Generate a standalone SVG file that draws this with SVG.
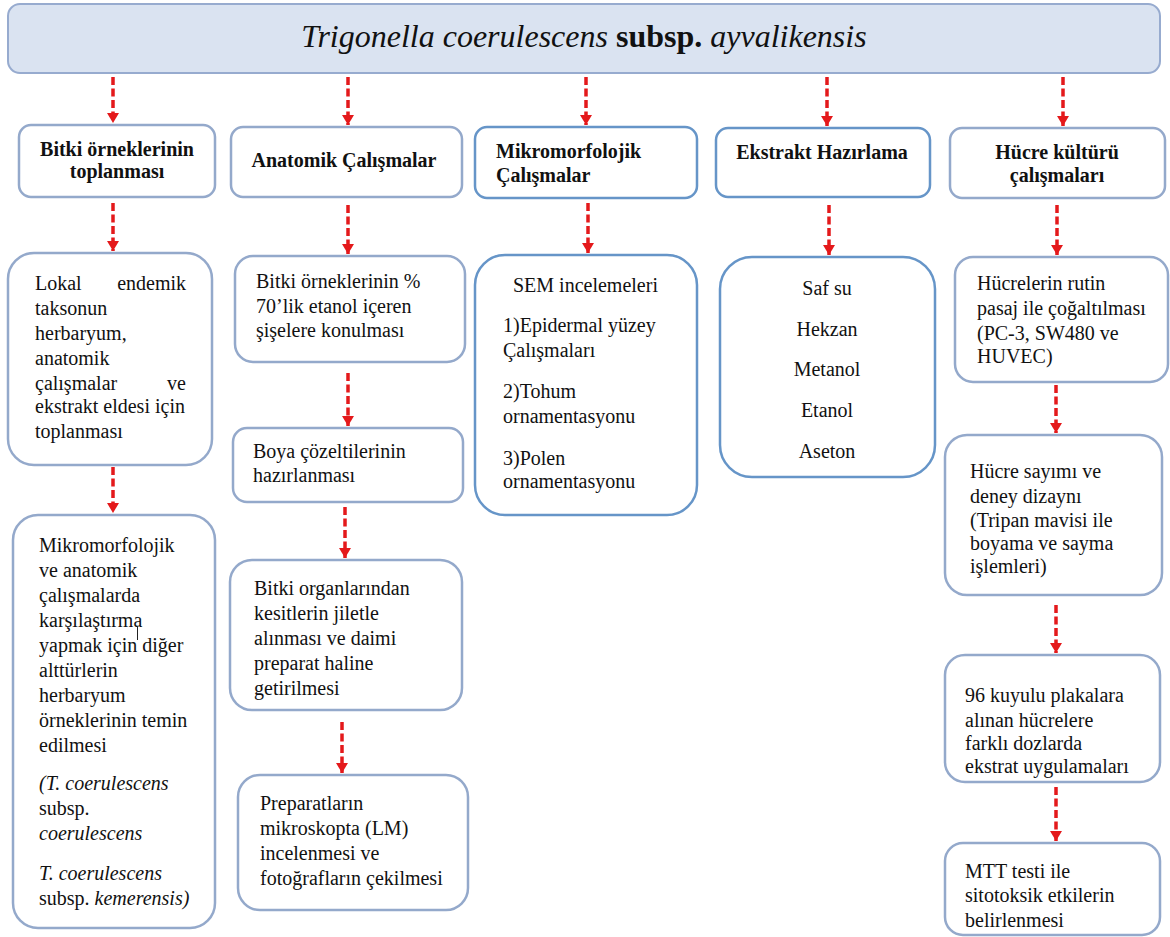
<svg xmlns="http://www.w3.org/2000/svg" width="1170" height="937" viewBox="0 0 1170 937">
<style>
  text { font-family: "Liberation Serif", "Times New Roman", serif; font-size: 20px; fill: #111; }
  .h { font-weight: bold; }
  .c { text-anchor: middle; }
  .i { font-style: italic; }
  .box { fill: #ffffff; stroke: #94a9cb; stroke-width: 2.5; }
  .blue { stroke: #6695c8; }
  .arr { stroke: #e4191b; stroke-width: 3.5; stroke-dasharray: 8 3.5; fill: none; marker-end: url(#head); }
</style>
<defs>
  <marker id="head" viewBox="0 0 10 12" refX="10" refY="6" markerWidth="10" markerHeight="12" markerUnits="userSpaceOnUse" orient="auto">
    <path d="M0,0 L10,6 L0,12 z" fill="#e4191b"/>
  </marker>
</defs>
<rect width="1170" height="937" fill="#ffffff"/>

<g id="title">
  <rect x="8" y="4" width="1152" height="69" rx="12" fill="#dae3f1" stroke="#97abcf" stroke-width="2"/>
  <text x="584" y="47" class="c" style="font-size:32px"><tspan class="i">Trigonella coerulescens</tspan> <tspan class="h">subsp.</tspan> <tspan class="i">ayvalikensis</tspan></text>
</g>

<g id="connectors">
  <line class="arr" x1="113" y1="77" x2="113" y2="123"/>
  <line class="arr" x1="348" y1="77" x2="348" y2="125"/>
  <line class="arr" x1="586" y1="77" x2="586" y2="125"/>
  <line class="arr" x1="827" y1="77" x2="827" y2="126"/>
  <line class="arr" x1="1063" y1="77" x2="1063" y2="126"/>

  <line class="arr" x1="113" y1="203" x2="113" y2="251"/>
  <line class="arr" x1="348" y1="205" x2="348" y2="254"/>
  <line class="arr" x1="588" y1="203" x2="588" y2="253"/>
  <line class="arr" x1="829" y1="205" x2="829" y2="255"/>
  <line class="arr" x1="1057" y1="205" x2="1057" y2="255"/>

  <line class="arr" x1="113" y1="467" x2="113" y2="513"/>
  <line class="arr" x1="348" y1="373" x2="348" y2="426"/>
  <line class="arr" x1="345" y1="507" x2="345" y2="558"/>
  <line class="arr" x1="342" y1="722" x2="342" y2="773"/>
  <line class="arr" x1="1056" y1="385" x2="1056" y2="433"/>
  <line class="arr" x1="1056" y1="605" x2="1056" y2="653"/>
  <line class="arr" x1="1056" y1="787" x2="1056" y2="841"/>
</g>

<g id="n-bitki">
  <rect class="box" x="19" y="125" width="196" height="72" rx="12"/>
  <text x="117" y="156" class="h c">Bitki örneklerinin</text>
  <text x="117" y="178" class="h c">toplanması</text>
</g>
<g id="n-anatomik">
  <rect class="box" x="231" y="127" width="231" height="70" rx="12"/>
  <text x="344" y="167" class="h c">Anatomik Çalışmalar</text>
</g>
<g id="n-mikro">
  <rect class="box blue" x="475" y="127" width="222" height="71" rx="12"/>
  <text x="496" y="158" class="h">Mikromorfolojik</text>
  <text x="496" y="182" class="h">Çalışmalar</text>
</g>
<g id="n-ekstrakt">
  <rect class="box blue" x="716" y="128" width="214" height="69" rx="12"/>
  <text x="822" y="159" class="h c">Ekstrakt Hazırlama</text>
</g>
<g id="n-hucre">
  <rect class="box" x="950" y="128" width="215" height="70" rx="12"/>
  <text x="1057" y="159" class="h c">Hücre kültürü</text>
  <text x="1057" y="182" class="h c">çalışmaları</text>
</g>

<g id="n-lokal">
  <rect class="box" x="8" y="253" width="204" height="212" rx="26"/>
  <text x="35" y="290">Lokal</text>
  <text x="186" y="290" style="text-anchor:end">endemik</text>
  <text x="35" y="315">taksonun</text>
  <text x="35" y="340">herbaryum,</text>
  <text x="35" y="365">anatomik</text>
  <text x="35" y="390">çalışmalar</text>
  <text x="186" y="390" style="text-anchor:end">ve</text>
  <text x="35" y="413">ekstrakt eldesi için</text>
  <text x="35" y="438">toplanması</text>
</g>
<g id="n-karsilastirma">
  <rect class="box" x="13" y="515" width="202" height="413" rx="25"/>
  <text x="39" y="552">Mikromorfolojik</text>
  <text x="39" y="577">ve anatomik</text>
  <text x="39" y="602">çalışmalarda</text>
  <text x="39" y="627">karşılaştırma</text>
  <text x="39" y="652">yapmak için diğer</text>
  <line x1="137.5" y1="627" x2="137.5" y2="640" stroke="#222" stroke-width="1"/>
  <text x="39" y="677">alttürlerin</text>
  <text x="39" y="702">herbaryum</text>
  <text x="39" y="727">örneklerinin temin</text>
  <text x="39" y="752">edilmesi</text>
  <text x="39" y="790" class="i">(T. coerulescens</text>
  <text x="39" y="815">subsp.</text>
  <text x="39" y="840" class="i">coerulescens</text>
  <text x="39" y="880" class="i">T. coerulescens</text>
  <text x="39" y="905">subsp. <tspan class="i">kemerensis)</tspan></text>
</g>

<g id="n-etanol">
  <rect class="box" x="235" y="256" width="230" height="106" rx="18"/>
  <text x="256" y="288">Bitki örneklerinin %</text>
  <text x="256" y="313">70’lik etanol içeren</text>
  <text x="256" y="337">şişelere konulması</text>
</g>
<g id="n-boya">
  <rect class="box" x="233" y="428" width="230" height="74" rx="14"/>
  <text x="253" y="458">Boya çözeltilerinin</text>
  <text x="253" y="482">hazırlanması</text>
</g>
<g id="n-kesit">
  <rect class="box" x="230" y="560" width="232" height="150" rx="22"/>
  <text x="254" y="595">Bitki organlarından</text>
  <text x="254" y="620">kesitlerin jiletle</text>
  <text x="254" y="645">alınması ve daimi</text>
  <text x="254" y="670">preparat haline</text>
  <text x="254" y="695">getirilmesi</text>
</g>
<g id="n-preparat">
  <rect class="box" x="238" y="775" width="230" height="135" rx="22"/>
  <text x="260" y="810">Preparatların</text>
  <text x="260" y="835">mikroskopta (LM)</text>
  <text x="260" y="860">incelenmesi ve</text>
  <text x="260" y="885">fotoğrafların çekilmesi</text>
</g>

<g id="n-sem">
  <rect class="box blue" x="475" y="255" width="222" height="260" rx="30"/>
  <text x="513" y="292">SEM incelemeleri</text>
  <text x="503" y="332">1)Epidermal yüzey</text>
  <text x="503" y="357">Çalışmaları</text>
  <text x="503" y="398">2)Tohum</text>
  <text x="503" y="423">ornamentasyonu</text>
  <text x="503" y="465">3)Polen</text>
  <text x="503" y="488">ornamentasyonu</text>
</g>

<g id="n-cozucu">
  <rect class="box blue" x="720" y="257" width="215" height="220" rx="32"/>
  <text x="827" y="295" class="c">Saf su</text>
  <text x="827" y="336" class="c">Hekzan</text>
  <text x="827" y="376" class="c">Metanol</text>
  <text x="827" y="417" class="c">Etanol</text>
  <text x="827" y="458" class="c">Aseton</text>
</g>

<g id="n-pasaj">
  <rect class="box" x="955" y="257" width="213" height="125" rx="18"/>
  <text x="977" y="290">Hücrelerin rutin</text>
  <text x="977" y="315">pasaj ile çoğaltılması</text>
  <text x="977" y="340">(PC-3, SW480 ve</text>
  <text x="977" y="363">HUVEC)</text>
</g>
<g id="n-sayim">
  <rect class="box" x="945" y="435" width="217" height="160" rx="22"/>
  <text x="970" y="478">Hücre sayımı ve</text>
  <text x="970" y="503">deney dizaynı</text>
  <text x="970" y="527">(Tripan mavisi ile</text>
  <text x="970" y="550">boyama ve sayma</text>
  <text x="970" y="573">işlemleri)</text>
</g>
<g id="n-plaka">
  <rect class="box" x="945" y="655" width="215" height="127" rx="20"/>
  <text x="965" y="702">96 kuyulu plakalara</text>
  <text x="965" y="727">alınan hücrelere</text>
  <text x="965" y="750">farklı dozlarda</text>
  <text x="965" y="773">ekstrat uygulamaları</text>
</g>
<g id="n-mtt">
  <rect class="box" x="945" y="843" width="215" height="92" rx="18"/>
  <text x="965" y="878">MTT testi ile</text>
  <text x="965" y="902">sitotoksik etkilerin</text>
  <text x="965" y="927">belirlenmesi</text>
</g>
</svg>
